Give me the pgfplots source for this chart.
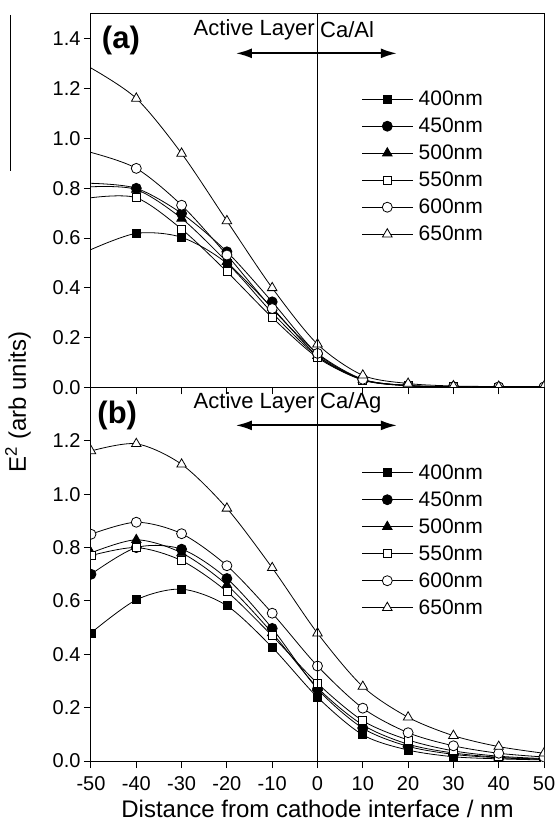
\documentclass[border=0pt]{standalone}
\usepackage{fontspec}
\setmainfont{Liberation Sans}
\usepackage{pgfplots}
\pgfplotsset{compat=1.18}
\usetikzlibrary{arrows.meta}

\pgfplotsset{
  panel/.style={
    scale only axis, width=453pt, height=373.5pt,
    xmin=-50, xmax=50, ymin=0,
    tick align=outside, tick pos=left, major tick length=7pt,
    axis line style={line width=1pt},
    every tick/.style={black, line width=1pt},
    clip marker paths=true,
    /pgf/number format/assume math mode=true,
    ticklabel style={font=\fontsize{20}{23}\selectfont},
    xticklabel style={yshift=-5pt},
    yticklabel style={/pgf/number format/fixed, /pgf/number format/fixed zerofill, /pgf/number format/precision=1},
    xtick={-50,-40,...,50},
    legend style={at={(0.598,0.808)}, anchor=north west, draw=none, fill=none,
      inner sep=0pt, outer sep=0pt, row sep=0pt, column sep=6pt,
      nodes={inner sep=0pt, minimum height=27pt},
      font=\fontsize{21}{25}\selectfont},
    legend cell align=left,
    legend image code/.code={\draw[mark repeat=2,mark phase=2] plot coordinates {(0pt,0pt) (25pt,0pt) (50pt,0pt)};},
  },
  base/.style={black, line width=0.8pt, smooth},
  s400/.style={base, mark=square*, mark size=4pt, mark options={solid, fill=black}},
  s450/.style={base, mark=*, mark size=5pt, mark options={solid, fill=black}},
  s500/.style={base, mark=triangle*, mark size=5.5pt, mark options={solid, fill=black}},
  s550/.style={base, mark=square*, mark size=4pt, mark options={solid, fill=white}},
  s600/.style={base, mark=*, mark size=5pt, mark options={solid, fill=white}},
  s650/.style={base, mark=triangle*, mark size=5.5pt, mark options={solid, fill=white}},
}

\begin{document}
\begin{tikzpicture}
\path[use as bounding box] (-91pt,-62pt) rectangle (465pt,761pt);

% ---------------- panel (a) ----------------
\begin{axis}[panel, at={(0pt,373.5pt)}, anchor=south west, ymax=1.5,
  ytick={0,0.2,...,1.4}, xticklabels={}]
\addplot[s400, mark phase=2, mark repeat=1] coordinates {(-50,0.554) (-40,0.619) (-30,0.603) (-20,0.498) (-10,0.300) (0,0.125) (10,0.030) (20,0.007) (30,0.003) (40,0.002) (50,0.002)};
\addlegendentry{400nm}
\addplot[s450, mark phase=2, mark repeat=1] coordinates {(-50,0.820) (-40,0.800) (-30,0.699) (-20,0.545) (-10,0.344) (0,0.135) (10,0.032) (20,0.008) (30,0.003) (40,0.002) (50,0.002)};
\addlegendentry{450nm}
\addplot[s500, mark phase=2, mark repeat=1] coordinates {(-50,0.806) (-40,0.795) (-30,0.679) (-20,0.505) (-10,0.320) (0,0.128) (10,0.032) (20,0.008) (30,0.003) (40,0.002) (50,0.002)};
\addlegendentry{500nm}
\addplot[s550, mark phase=2, mark repeat=1] coordinates {(-50,0.762) (-40,0.762) (-30,0.636) (-20,0.465) (-10,0.281) (0,0.120) (10,0.030) (20,0.007) (30,0.003) (40,0.002) (50,0.002)};
\addlegendentry{550nm}
\addplot[s600, mark phase=2, mark repeat=1] coordinates {(-50,0.944) (-40,0.880) (-30,0.732) (-20,0.532) (-10,0.317) (0,0.137) (10,0.033) (20,0.008) (30,0.003) (40,0.002) (50,0.002)};
\addlegendentry{600nm}
\addplot[s650, mark phase=2, mark repeat=1] coordinates {(-50,1.283) (-40,1.161) (-30,0.940) (-20,0.669) (-10,0.400) (0,0.174) (10,0.049) (20,0.016) (30,0.006) (40,0.004) (50,0.004)};
\addlegendentry{650nm}
\draw[line width=1pt] (axis cs:0,0) -- (axis cs:0,1.5);
\node[anchor=east, inner sep=2.5pt, font=\fontsize{22}{26}\selectfont] at (axis cs:0,1.436) {Active Layer};
\node[anchor=west, inner sep=2.5pt, font=\fontsize{22}{26}\selectfont] at (axis cs:0,1.436) {Ca/Al};
\draw[line width=1.8pt, {Latex[length=16pt,width=10pt]}-{Latex[length=16pt,width=10pt]}] (axis cs:-18,1.342) -- (axis cs:17.5,1.342);
\node[font=\bfseries\fontsize{31}{35}\selectfont, inner sep=0pt] at (rel axis cs:0.066,0.93) {(a)};
\end{axis}

% ---------------- panel (b) ----------------
\begin{axis}[panel, at={(0pt,0pt)}, anchor=south west, ymax=1.4,
  ytick={0,0.2,...,1.2},
  xlabel={Distance from cathode interface / nm},
  xlabel style={at={(axis description cs:0.5,0)}, anchor=base, yshift=-56pt, font=\fontsize{24}{28}\selectfont}]
\addplot[s400] coordinates {(-50,0.480) (-40,0.604) (-30,0.644) (-20,0.582) (-10,0.426) (0,0.239) (10,0.098) (20,0.041) (30,0.016) (40,0.008) (50,0.004)};
\addlegendentry{400nm}
\addplot[s450] coordinates {(-50,0.700) (-40,0.800) (-30,0.794) (-20,0.684) (-10,0.497) (0,0.270) (10,0.123) (20,0.055) (30,0.025) (40,0.012) (50,0.006)};
\addlegendentry{450nm}
\addplot[s500] coordinates {(-50,0.780) (-40,0.829) (-30,0.780) (-20,0.660) (-10,0.480) (0,0.275) (10,0.135) (20,0.063) (30,0.030) (40,0.014) (50,0.007)};
\addlegendentry{500nm}
\addplot[s550] coordinates {(-50,0.770) (-40,0.800) (-30,0.751) (-20,0.635) (-10,0.469) (0,0.291) (10,0.151) (20,0.079) (30,0.038) (40,0.018) (50,0.009)};
\addlegendentry{550nm}
\addplot[s600] coordinates {(-50,0.850) (-40,0.895) (-30,0.852) (-20,0.732) (-10,0.554) (0,0.356) (10,0.198) (20,0.106) (30,0.057) (40,0.029) (50,0.015)};
\addlegendentry{600nm}
\addplot[s650] coordinates {(-50,1.162) (-40,1.189) (-30,1.112) (-20,0.947) (-10,0.724) (0,0.479) (10,0.279) (20,0.164) (30,0.095) (40,0.054) (50,0.029)};
\addlegendentry{650nm}
\draw[line width=1pt] (axis cs:0,0) -- (axis cs:0,1.4);
\node[anchor=east, inner sep=2.5pt, font=\fontsize{22}{26}\selectfont] at (axis cs:0,1.341) {Active Layer};
\node[anchor=west, inner sep=2.5pt, font=\fontsize{22}{26}\selectfont] at (axis cs:0,1.341) {Ca/Ag};
\draw[line width=1.8pt, {Latex[length=16pt,width=10pt]}-{Latex[length=16pt,width=10pt]}] (axis cs:-18,1.258) -- (axis cs:17.5,1.258);
\node[font=\bfseries\fontsize{31}{35}\selectfont, inner sep=0pt] at (rel axis cs:0.058,0.925) {(b)};
\end{axis}

% shared y label
\node[rotate=90, font=\fontsize{24}{28}\selectfont] at (-73pt,359pt) {E\textsuperscript{2} (arb units)};
\draw[line width=0.8pt] (-81pt,746pt) -- (-81pt,590pt);
\end{tikzpicture}
\end{document}
